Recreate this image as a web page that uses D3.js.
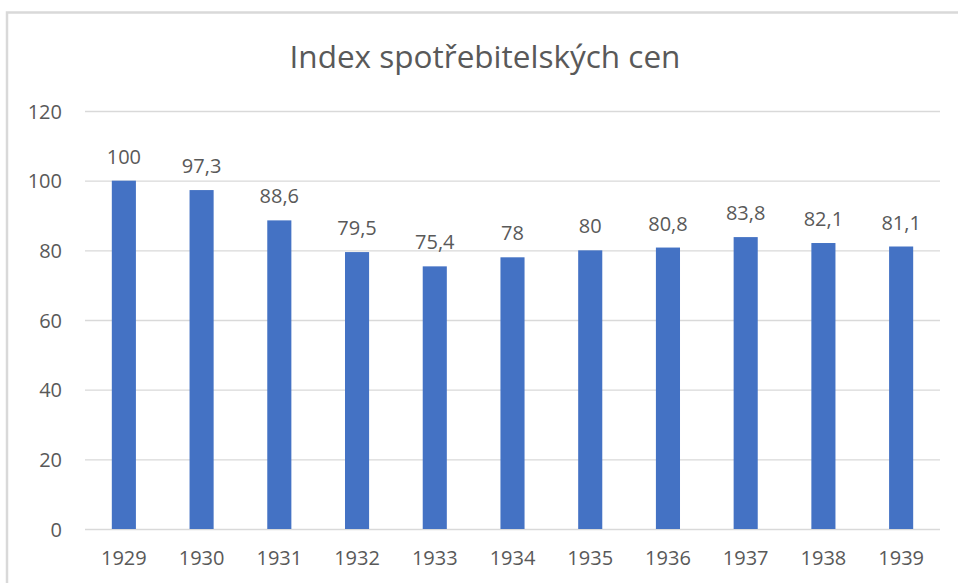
<!DOCTYPE html>
<html lang="cs">
<head>
<meta charset="utf-8">
<title>Index spotřebitelských cen</title>
<script src="https://d3js.org/d3.v7.min.js"></script>
<style>
  body { margin: 0; background: #fff; }
  text { font-family: "Open Sans", "Noto Sans", sans-serif; fill: #595959; }
</style>
</head>
<body>
<div id="chart"></div>
<script>
// data
const years = ["1929", "1930", "1931", "1932", "1933", "1934", "1935", "1936", "1937", "1938", "1939"];
const values = [100, 97.3, 88.6, 79.5, 75.4, 78, 80, 80.8, 83.8, 82.1, 81.1];
const yTicks = [0, 20, 40, 60, 80, 100, 120];
const title = "Index spotřebitelských cen";

const W = 958, H = 583;
const plot = {left: 85, right: 940, top: 111, bottom: 529};

const svg = d3.select("#chart").append("svg")
    .attr("width", W)
    .attr("height", H);

// chart frame (runs off the right and bottom edges)
svg.append("rect")
    .attr("x", 7).attr("y", 12.5)
    .attr("width", 990).attr("height", 620)
    .attr("fill", "#fff")
    .attr("stroke", "#d9d9d9")
    .attr("stroke-width", 2.5);

svg.append("text")
    .attr("x", 485).attr("y", 68)
    .attr("text-anchor", "middle")
    .style("font-size", "31.5px")
    .text(title);

let x = d3.scaleBand()
    .domain(years)
    .range([plot.left, plot.right])
    .paddingInner(0.69)
    .paddingOuter(0.345);

let y = d3.scaleLinear()
    .domain([0, 120])
    .range([plot.bottom, plot.top]);

// gridlines + y labels
let yAxis = d3.axisLeft(y)
    .tickValues(yTicks)
    .tickSize(-(plot.right - plot.left))
    .tickPadding(23);

let gy = svg.append("g")
    .attr("transform", "translate(" + plot.left + ",0)")
    .call(yAxis);
gy.select(".domain").remove();
gy.selectAll("line").attr("stroke", "#d9d9d9").attr("stroke-width", 1.3);
gy.selectAll("text")
    .style("font-size", "20px")
    .attr("fill", "#595959")
    .attr("dy", "0.36em");

// x labels
let xAxis = d3.axisBottom(x).tickSize(0).tickPadding(22);
let gx = svg.append("g")
    .attr("transform", "translate(0," + plot.bottom + ")")
    .call(xAxis);
gx.select(".domain").remove();
gx.selectAll("text")
    .style("font-size", "20px")
    .attr("fill", "#595959");

// bars
svg.selectAll(".bar")
    .data(values)
    .enter().append("rect")
    .attr("class", "bar")
    .attr("x", (d, i) => x(years[i]))
    .attr("width", x.bandwidth())
    .attr("y", d => y(d))
    .attr("height", d => y(0) - y(d))
    .attr("fill", "#4472c4");

// value labels (czech decimal comma)
svg.selectAll(".lbl")
    .data(values)
    .enter().append("text")
    .attr("class", "lbl")
    .attr("x", (d, i) => x(years[i]) + x.bandwidth() / 2)
    .attr("y", d => y(d) - 17)
    .attr("text-anchor", "middle")
    .style("font-size", "20px")
    .text(d => String(d).replace(".", ","));
</script>
</body>
</html>
